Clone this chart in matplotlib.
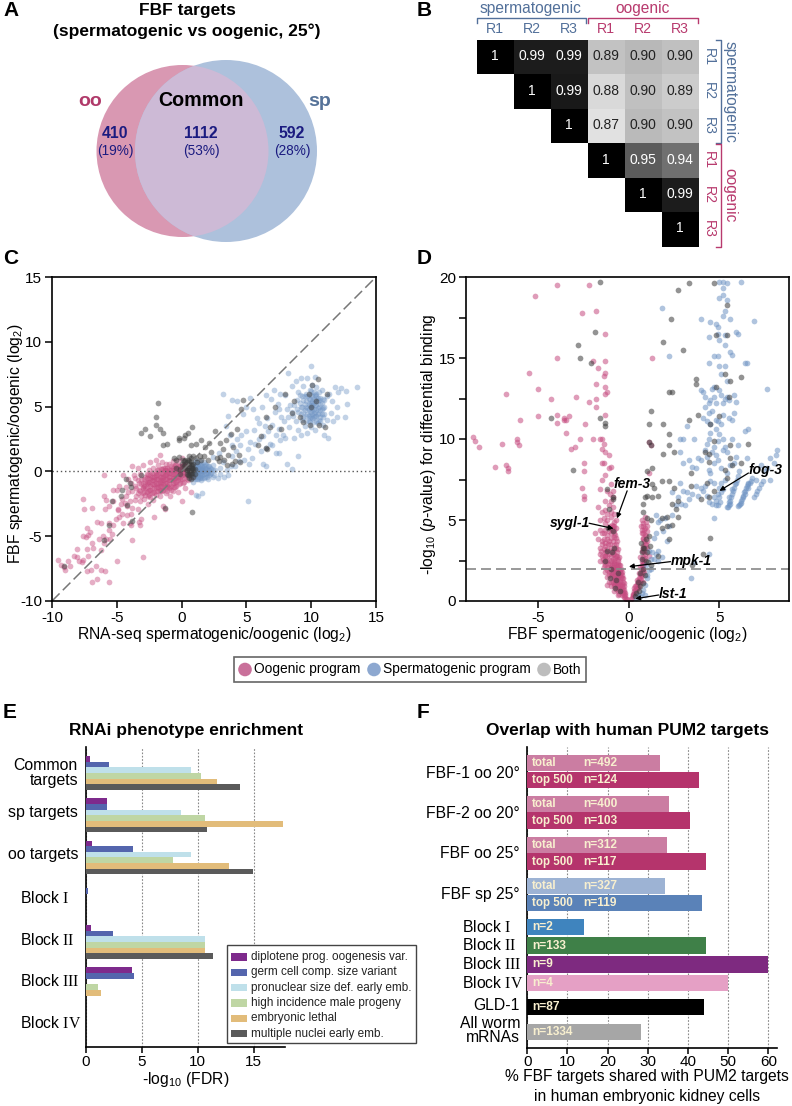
import matplotlib
matplotlib.use('Agg')
import matplotlib.pyplot as plt
from matplotlib.patches import Circle, Rectangle
import numpy as np

plt.rcParams['font.family'] = ['Liberation Sans', 'DejaVu Sans']
plt.rcParams['mathtext.fontset'] = 'custom'
plt.rcParams['mathtext.rm'] = 'Liberation Serif'
plt.rcParams['mathtext.it'] = 'Liberation Sans:italic'
plt.rcParams['mathtext.default'] = 'regular'
plt.rcParams['axes.unicode_minus'] = False

W, H = 792, 1106

# panel B
corr_labels = [['1', '0.99', '0.99', '0.89', '0.90', '0.90'],
               ['', '1', '0.99', '0.88', '0.90', '0.89'],
               ['', '', '1', '0.87', '0.90', '0.90'],
               ['', '', '', '1', '0.95', '0.94'],
               ['', '', '', '', '1', '0.99'],
               ['', '', '', '', '', '1']]
corr_shade = [[0.0, 0.11, 0.11, 0.76, 0.72, 0.75],
              [1.0, 0.0, 0.10, 0.85, 0.75, 0.80],
              [1.0, 1.0, 0.0, 0.88, 0.73, 0.76],
              [1.0, 1.0, 1.0, 0.0, 0.36, 0.44],
              [1.0, 1.0, 1.0, 1.0, 0.0, 0.11],
              [1.0, 1.0, 1.0, 1.0, 1.0, 0.0]]
reps = ['R1', 'R2', 'R3']

c_oo = [(-9.5,-6.8),(-9.3,-7.2),(-9.1,-7.4),(-9,-7.6),(-8.8,-6.9),(-8.6,-7.3),(-8.3,-6.5),(-8.1,-6.6),(-8.1,-6),
 (-7.9,-6.9),(-7.7,-7),(-7.6,-6.8),(-7.3,-6),(-7.2,-6.5),(-7.3,-7.7),(-7,-7.6),(-6.9,-8.5),(-6.5,-8.3),(-6.6,-7.3),
 (-6.2,-7.6),(-5.9,-7.7),(-5.6,-8.5),(-5,-6.9),(-3,-6.6),(-6.8,-5.9),(-6.2,-6.1),(-6,-5.5),(-5.8,-5.2),(-7.6,-5),
 (-7.4,-5.1),(-7.2,-4.9),(-7.3,-4.4),(-7.1,-4.7),(-6.9,-5.5),(-6.4,-5.2),(-6.1,-5),(-5.5,-5.2),(-5.4,-4.8),(-5.6,-4.5),
 (-5.6,-4),(-5.3,-4.1),(-6.5,-3.9),(-6.2,-4),(-5.1,-3.7),(-4.8,-3.5),(-4.9,-3),(-4.6,-3.3),(-4.5,-4),(-4.2,-3.4),
 (-4,-4),(-3.9,-4.1),(-3.9,-3.3),(-3.8,-5.3),(-3.3,-3.9),(-3.2,-4.1),(-3.1,-3.7),(-2.1,-3.5),(-1.3,-2.9),(-7.6,-2.1),
 (-7.5,-2.9),(-6.9,-2.8),(-6,-1.9),(-5.9,-2.9),(-5.8,-2.2),(-5.6,-2.7),(-5.3,-2.3),(-6,-.3),(-5.3,-1.4),(-5,-1.4),
 (-4.9,-2.9),(-4.7,-2.5),(-4.6,-2.1),(-4.4,-2.4),(-4.3,-1.9),(-4.2,-2.7),(-4,-2.3),(-3.8,-2.8),(-3.6,-2.2),(-3.4,-2.9),
 (-4.5,-.3),(-4.3,-1.2),(-4.1,-1.6),(-3.9,-.9),(-3.8,-1.5),(-3.7,-.3),(-3.6,-1.1),(-3.5,-1.9),(-3.4,-.7),(-3.3,-1.4),
 (-3.2,-2.3),(-3.2,-.2),(-3.1,-1),(-3,-1.7),(-3,.5),(-2.9,-.6),(-2.9,-2.1),(-2.8,-1.3),(-2.7,-.2),(-2.7,-.9),(-2.6,-1.9),
 (-2.6,-2.5),(-2.5,.1),(-2.5,-1.4),(-2.5,-.5),(-2.4,.7),(-2.4,-1.1),(-2.3,-1.7),(-2.3,-.1),(-2.3,-.7),(-2.2,.3),(-2.2,-2.2),
 (-2.1,-1.3),(-2.1,-.4),(-2,-.9),(-2,.9),(-2,-1.8),(-1.9,.1),(-1.9,-.6),(-1.9,-1.2),(-1.8,.5),(-1.8,-1.5),(-1.8,-.2),
 (-1.7,1.3),(-1.7,-.8),(-1.7,-1.9),(-1.6,.2),(-1.6,-.4),(-1.6,-1.1),(-1.5,.7),(-1.5,-.1),(-1.5,-1.5),(-1.4,-.7),(-1.4,.3),
 (-1.4,-2.7),(-1.3,-.3),(-1.3,-1.2),(-1.3,.1),(-1.2,.6),(-1.2,-.6),(-1.2,-1.7),(-1.1,-.1),(-1.1,-.9),(-1.1,.3),(-1,-.4),
 (-1,-1.3),(-1,.6),(-.9,.1),(-.9,-.7),(-.9,-1.9),(-.8,-.2),(-.8,.4),(-.8,-1.1),(-.7,.8),(-.7,-.5),(-.7,-1.5),(-.6,.1),
 (-.6,-.2),(-.6,-.9),(-.5,.5),(-.5,-.5),(-.5,-1.2),(-.4,-.1),(-.4,.2),(-.4,-.8),(-.3,.8),(-.3,-.4),(-.3,-1.6),(-.2,.1),
 (-.2,-.2),(-.2,-1),(-.1,.4),(-.1,-.6),(0,.1),(0,-.3),(0,1),(0,-2.3),(.1,.5),(.1,-.9),(.2,-.1),(.2,-.5),(.2,.2),(.3,.6),
 (.3,-1.3),(.4,-.3),(.4,.1),(.5,-.7),(.5,.4),(.6,-.1),(.7,-1.6),(.8,-.4),(-3.6,-.5),(-3.4,.3),(-3.8,.4),(-4.1,-.6),(-4.8,-1.1),
 (-2.8,-.4),(-2.6,-.8),(-2.4,-.3),(-2.2,-1),(-2,-.3),(-1.8,-.9),(-1.6,-.7),(-1.4,-.2),(-1.2,-.2),(-1,-.1),(-2.7,-1.6),(-3,-1.2)]
c_oo_core = [(-3.5,-1.3),(-3.4,-1.7),(-3.3,-.9),(-3.2,-1.5),(-3.1,-1.9),(-3.1,-.6),(-3,-1.3),(-3,-.9),(-2.9,-1.6),(-2.9,-1.1),(-2.8,-.8),
 (-2.8,-1.8),(-2.7,-1.2),(-2.7,-.5),(-2.6,-1.5),(-2.6,-1),(-2.6,-.3),(-2.5,-1.8),(-2.5,-.8),(-2.4,-1.4),(-2.4,-.6),(-2.4,-2),(-2.3,-1),(-2.3,-.4),
 (-2.3,-1.3),(-2.2,-.7),(-2.2,-1.6),(-2.2,-.2),(-2.1,-1),(-2.1,-.6),(-2.1,-1.7),(-2,-1.3),(-2,-.6),(-2,-.1),(-1.9,-1),(-1.9,-.3),(-1.9,-1.5),(-1.8,-.6),
 (-1.8,-1.2),(-1.8,.1),(-1.7,-.4),(-1.7,-1.1),(-1.7,-1.5),(-1.6,-.9),(-1.6,-.1),(-1.6,-1.4),(-1.5,-.5),(-1.5,-.8),(-1.5,-1.2),(-1.5,.2),(-1.4,-.4),(-1.4,-1),
 (-1.4,-1.4),(-1.3,-.6),(-1.3,-.9),(-1.3,.3),(-1.2,-.9),(-1.2,-.3),(-1.2,-1.3),(-1.2,.1),(-1.1,-.5),(-1.1,-1.1),(-1.1,-1.5),(-1,-.7),(-1,.2),(-1,-1),(-.9,-.4),
 (-.9,-.1),(-.9,-1.2),(-.8,-.7),(-.8,.1),(-.8,-1.4),(-.7,-.2),(-.7,-.9),(-.7,.3),(-.6,-.5),(-.6,-1.2),(-.6,.4),(-.5,-.2),(-.5,-.8),(-.5,.1),(-.4,-.4),(-.4,-1.1),
 (-.4,.5),(-.3,-.1),(-.3,-.7),(-.3,.3),(-.2,-.5),(-.2,.4),(-.1,-.1),(-.1,-.9),(-.1,.1),(0,-.6),(0,.4),(.1,-.2),(.1,.2),(.2,-.8),(.2,.5),(.3,-.3),(.3,.1),(.4,-.6)]
c_sp = [(.6,-.1),(.7,.3),(.7,-.5),(.8,.6),(.8,-.2),(.9,.1),(.9,-.8),(1,.4),(1,-.4),(1,.9),(1.1,-.1),(1.1,.2),(1.1,-1.8),
 (1.2,.6),(1.2,-.6),(1.2,-.2),(1.3,.3),(1.3,0),(1.3,-1.9),(1.4,.8),(1.4,-.4),(1.4,.5),(1.5,.1),(1.5,-.1),(1.5,-.7),(1.6,.4),
 (1.6,-.3),(1.6,-1.7),(1.7,.7),(1.7,0),(1.8,.3),(1.8,-.4),(1.9,-.1),(1.9,.5),(2,.1),(2,-.6),(2.1,.4),(2.2,-.2),(2.3,.2),
 (2.4,.5),(2.5,-.3),(2.6,.1),(2.8,-.5),(3,.3),(3,-.2),(3.2,.7),(3.3,-.4),(3.5,.1),(3.6,-.3),(3.8,.4),(3.9,1.2),(4.1,.4),
 (4.2,1.6),(4.4,.8),(4.5,2),(4.8,.9),(5.1,-2.3),(5.2,.6),(5.4,1),(6.3,.6),(6.5,.4),(8.5,.2),(8.1,.6),(7.3,1.4),(7.5,1.4),
 (9,1.2),(3.2,6),(3.4,3.5),(3.6,4.3),(3.9,5.5),(4.3,5.4),(4.7,4.4),(5,5),(5.3,5.7),(5.5,4.8),(5.6,3.2),(5.8,4.1),(6,2.5),
 (6,3.7),(6.2,5),(6.3,2.7),(6.5,5.9),(6.6,4.1),(6.7,3.1),(6.8,2.1),(6.9,5.6),(7,3.6),(7.1,6.3),(7.2,4.6),(7.3,2.8),(7.4,5.2),
 (7.5,3.3),(7.6,6),(7.7,4.2),(7.8,2.8),(7.9,3.9),(8,5.9),(8.1,4.8),(8.2,7.6),(8.3,3.4),(8.4,5.1),(8.5,6.6),(8.6,4.3),(8.7,2.6),
 (8.8,7),(8.8,3.9),(8.9,5.5),(9,6.1),(9,4.6),(9,3.2),(9.2,7.2),(9.2,5),(9.2,2.8),(9.3,4),(9.3,5.8),(9.4,4.6),(9.4,6.6),
 (9.5,3.5),(9.5,5.2),(9.6,6),(9.6,4.3),(9.7,4.9),(9.7,3),(9.7,7.2),(9.8,5.6),(9.8,3.9),(9.9,6.3),(9.9,4.6),(9.9,5.1),(10,8.1),
 (10,3.4),(10,5.9),(10,4.2),(10.1,4.9),(10.1,6.7),(10.1,5.4),(10.2,3.8),(10.2,6.1),(10.2,4.5),(10.3,5.1),(10.3,7.3),(10.3,3.2),
 (10.4,5.8),(10.4,4.3),(10.4,6.5),(10.5,4.9),(10.5,3.7),(10.5,5.4),(10.6,6.1),(10.6,4.5),(10.7,5.2),(10.7,3.9),(10.8,4.8),
 (10.8,6.3),(10.9,5.6),(10.9,3.6),(11,4.4),(11,5),(11,2.8),(11.2,5.8),(11.2,4),(11.3,2.6),(11.4,6),(11.5,4.5),(11.6,5.4),(11.7,3.9),
 (11.8,6.5),(12,5),(12,4.2),(12.1,6.1),(12.3,6.4),(12.6,4.2),(12.7,6.2),(12.8,5.2),(13.5,6.5),(9.9,4.1),(10.1,4.4),(10.3,4.6),
 (10.4,5.1),(9.8,4.8),(10,5.3),(10.6,5),(9.6,5),(10.2,5.6),(9.4,5.5),(10.7,4.2),(9.1,5.9),(8.2,4.2),(7.5,4.8),(6.4,3.5),(5.1,1.7),
 (5.3,2.3),(5,3.1),(4.6,2.8),(4.3,2.5),(3.9,2),(3.7,2.8),(5.7,2.1),(6.1,1.6),(6.5,1.8),(7,2),(7.6,2.4),(8,2.6),(2.4,1.1),(2.9,1.4)]
c_sp_core = [(.9,.3),(.9,-.3),(1,.1),(1,-.1),(1.05,-.6),(1.1,.4),(1.1,.7),(1.15,-.3),(1.2,.1),(1.2,.3),(1.25,-.1),(1.25,-.4),(1.3,.6),(1.3,-.6),(1.35,.2),
 (1.4,0),(1.4,.3),(1.4,-.2),(1.45,-.5),(1.5,.4),(1.5,.6),(1.5,-.3),(1.55,.2),(1.6,0),(1.6,-.5),(1.65,.2),(1.7,-.2),(1.7,.4),(1.75,-.5),(1.8,.1),(1.8,.6),(1.85,-.2),
 (1.9,.2),(1.95,-.4),(2,.4),(2,-.1),(2.1,.1),(2.1,-.3),(2.2,.3),(2.3,-.1),(2.4,.1),(2.4,-.4),(9.4,4.2),(9.5,4.7),(9.5,5.8),(9.6,3.9),(9.6,5.4),(9.7,4.4),(9.7,5.8),(9.8,4.3),
 (9.8,5.2),(9.9,3.8),(9.9,5.6),(10,4.6),(10,4.9),(10,6.2),(10.1,4.1),(10.1,5.1),(10.1,5.8),(10.2,4.8),(10.2,5.3),(10.2,4.2),(10.3,4.3),(10.3,5.5),(10.3,5.9),(10.4,4.7),(10.4,3.9),
 (10.4,6),(10.5,4.4),(10.5,5.7),(10.6,5.5),(10.6,4),(10.7,4.7),(10.7,5.7),(10.8,5.3),(10.8,4.4),(10.9,4.9),(10.9,4.2),(11,5.5),(9.3,5),(9.2,4.4),(9.1,5.3),(8.9,4.8),(8.7,5.1),(8.5,4.6)]
c_both = [(-1.8,5.3),(-2,4.2),(-2,3.6),(-1.7,3.3),(-2.8,3.3),(-3.1,3),(-2.4,2.7),(-1.4,3),(-1.4,2),(-1.1,2.1),(-.2,2.4),(-.2,2.6),
 (.2,2.6),(.5,3),(.8,3.4),(.3,2.8),(.7,2),(1.1,2.1),(1.5,2.4),(1.8,1.9),(2.1,2.2),(2.6,3.1),(3,2.2),(3.2,1.7),(3.4,2.4),(3.6,1.3),
 (3.8,2.9),(4,1.9),(4.1,.8),(4.3,3.3),(4.4,1.3),(4.6,4.8),(4.7,5.5),(4.5,.7),(2.7,1),(2.9,.8),(3,1.1),(3.3,.9),(3.5,.5),(3.9,.6),
 (5.9,2),(6.1,2.7),(6.5,1.8),(6.6,1.7),(6.5,4.2),(6.8,3.4),(7.2,5),(7.7,3.3),(8,6),(8.5,4.5),(8.7,5.4),(9.1,4.2),(9.4,3.8),(9.8,6),
 (9.9,3.6),(10.1,6.7),(10.4,5.4),(10.5,7.1),(10.6,3.6),(11.1,3.4),(11.2,6),(10,5),(.8,-3.1),(-5.6,-4.1),(-6,-5.3),(-9.1,-7.3),(-1.3,-2.8),
 (-.6,1),(-.4,.9),(-.2,1.1),(0,.6),(.1,.9),(.2,.4),(.3,.2),(.3,.9),(.4,.7),(.4,-.2),(.5,.1),(.5,.9),(.6,.4),(.6,-.3),(.6,1.2),(.7,.8),(.7,.1),
 (.7,-.6),(.8,.3),(.8,-.1),(.9,.6),(.9,1.2),(1,-.2),(1,.2),(1.1,1),(1.2,.7),(1.4,1.2),(1.5,.9),(1.7,1.2),(2,.9),(2.3,1.5),(-.4,.3),(-.1,.2),
 (-.1,-.2),(-3.1,-.3),(-4.6,-1.4),(-4.7,-1.9),(-5.4,-2.3),(-4.2,-2.6),(-3.8,-3.8),(-4,-.9),(-3.9,-1.2),(-4.3,-.6),
 (.45,.3),(.5,-.3),(.55,.6),(.6,.1),(.65,-.1),(.7,.5),(.75,-.2),(.8,.1),(.8,.5),(.85,-.4),(.9,.2),(.4,.1),(.3,.5),(.6,.8),(.2,.8),(.55,-.5),(.7,1)]

# panel D
d_oo = [(-8.6,10.1),(-8.5,9.9),(-8.3,9.5),(-7.4,8.3),(-7,9.7),(-6.8,12.8),(-6.8,8.4),(-6.7,8.2),(-6.7,8),(-6.2,10),(-6.2,9.8),(-6.1,9.6),
 (-6,11.2),(-5.5,14.1),(-5.2,18.8),(-5,13.1),(-5,11.4),(-4.3,12.5),(-4,19.5),(-4,15),(-4,11),(-4,11.5),(-3.6,11.3),(-3.6,11.2),(-3.5,11.2),
 (-3.5,10.4),(-3.3,11.4),(-3.2,9.4),(-3,9.5),(-2.9,12.6),(-2.7,10),(-2.6,17.8),(-2.6,7),(-2.5,8.5),(-2.5,8),(-2.5,6.5),(-2.5,6.3),(-2.4,10.9),
 (-2.2,12.3),(-2.2,19.5),(-2,10),(-2,14.8),(-1.8,17.9),(-1.8,13.4),(-1.8,12),(-1.8,12.5),(-1.7,14.4),(-1.6,10),(-1.5,10),(-1.5,8.5),(-1.5,9.4),(-1.4,13.9),
 (-1.4,9.7),(-1.4,8.5),(-1.3,11.5),(-1.3,13.2),(-1.3,12.8),(-1.3,7.8),(-1.3,9.2),(-1.3,14.1),(-1.3,14.8),(-1.3,16.5),(-1.2,12.9),(-1.1,9),(-1.1,8.2),(-1,8.3),
 (-1,7.2),(-.9,6.8),(-1.5,7.5),(-1.6,6.9),(-1.2,6.8),(-1.3,6.2),(-1.1,5.9),(-.9,6.4),(-.9,5.8),(-1.7,5.8),(-1.5,5.5),(-1.4,5.1),(-1.2,5.4),(-1,5.2),(-.8,5.4),(-.7,5),
 (-1.6,5),(-1.3,4.8),(-1.1,4.6),(-.9,4.6),(-.7,4.5),(-1.9,4.2),(-1.6,4.4),(-1.4,4.2),(-1.2,4.1),(-1,4.2),(-.8,4.2),(-.7,3.9),(-1.7,3.8),(-1.5,3.7),(-1.3,3.6),(-1.1,3.7),
 (-.9,3.7),(-.7,3.5),(-1.6,3.3),(-1.4,3.2),(-1.2,3.2),(-1,3.3),(-.8,3.2),(-.6,3.2),(-1.6,2.9),(-1.3,2.8),(-1.1,2.9),(-.9,2.9),(-.7,2.8),(-.6,2.6),(-1.6,2.5),(-1.4,2.4),
 (-1.2,2.5),(-1,2.5),(-.8,2.5),(-.6,2.3),(-.5,2.2),(-1.4,2.1),(-1.2,2.1),(-1,2.1),(-.8,2.1),(-.6,2),(-.5,1.9),(-1.3,1.8),(-1.1,1.8),(-.9,1.8),(-.7,1.8),(-.5,1.7),(-.4,1.6),
 (-1.2,1.5),(-1,1.5),(-.8,1.5),(-.6,1.5),(-.4,1.4),(-1.1,1.2),(-.9,1.2),(-.7,1.2),(-.5,1.2),(-.3,1.1),(-1,.9),(-.8,.9),(-.6,.9),(-.4,.9),(-.3,.7),(-.8,.6),(-.6,.6),(-.4,.6),
 (-.2,.5),(-.6,.4),(-.4,.35),(-.3,.25),(-.2,.2),(-.1,.1),(-1.2,1),(-.95,1.65),(-.75,1.35),(-.55,1.05),(-.35,.5),(-.85,2.3),(-1.05,2.3),(-.7,2),(-1.35,3),(-1.15,3.5),(-.95,4.4),
 (.1,.15),(.2,.3),(.3,.6),(.25,.45),(.4,.9),(.35,.7),(.5,1.1),(.45,1.3),(.6,1.4),(.55,1.7),(.7,1.9),(.6,2.1),(.8,2.2),(.7,2.5),(.85,2.6),(.9,2.9),(.8,3.1),(1,3.3),(.9,3.5),
 (1,3.7),(.8,3.8),(.95,4),(.8,4.2),(1,4.3),(.7,4.4),(.9,4.5),(.65,4.6),(.8,4.8),(1,4.6),(.9,5.2),(.7,5),(1.1,7.9),(1.3,15),(1.2,9.6),(1.1,9.8),(.8,3.4),(.6,2.7),(1.1,2.8),
 (.5,.8),(.65,1.6),(.75,1.2),(.85,1.8)]
d_oo_arm = [(-.55,.45),(-.5,.6),(-.45,.75),(-.35,.8),(-.3,.55),(-.25,.4),(-.2,.35),(-.15,.15),(-.7,.75),(-.65,.85),(-.55,.8),(-.5,1),(-.4,1.05),(-.35,1.2),(-.3,.95),(-.85,1.05),(-.75,1.05),
 (-.65,1.1),(-.6,1.3),(-.5,1.35),(-.45,1.5),(-.35,1.4),(-1,1.2),(-.85,1.35),(-.7,1.4),(-.65,1.6),(-.55,1.6),(-.45,1.75),(-.4,1.8),(-1.1,1.6),(-1,1.75),(-.85,1.65),(-.75,1.6),(-.6,1.75),(-.55,1.9),
 (-.45,2),(-1.2,1.9),(-1.05,1.95),(-.95,2),(-.85,1.95),(-.75,2),(-.65,2.15),(-.55,2.2),(-1.3,2.2),(-1.15,2.3),(-.95,2.25),(-.8,2.35),(-.7,2.3),(-.6,2.5),(-.55,2.7),(-1.45,2.6),(-1.3,2.5),(-1.1,2.55),
 (-.9,2.6),(-.75,2.65),(-.65,2.75),(-1.5,2.8),(-1.35,2.75),(-1.2,2.8),(-1,2.8),(-.8,2.9),(-.65,3),(-1.55,3.1),(-1.25,3.05),(-1.05,3.1),(-.9,3.1),(-.7,3.3),(-1.5,3.5),(-1.3,3.4),(-1.05,3.5),(-.85,3.45),
 (-.65,3.7),(-1.4,3.8),(-1.2,3.85),(-1,3.9),(-.85,3.95),(-.75,4.1),(-1.1,4.3),(-1,4.5),(-.85,4.4),(-.8,4.6),(-.95,4.7),(-.85,4.9),(-1.3,4.4),(-1.5,4.2),(-1.2,5),(-1,5.5),(-1.3,5.6),(-1,6.2),(-1.05,6.6),
 (.15,.2),(.2,.4),(.3,.45),(.3,.8),(.35,.95),(.4,.6),(.45,.8),(.45,1.05),(.5,1.25),(.55,.95),(.55,1.4),(.6,1.15),(.6,1.65),(.65,1.3),(.65,1.95),(.7,1.55),(.7,2.2),(.75,1.75),(.75,2.4),(.8,2),(.8,2.7),(.85,2.35),
 (.85,3),(.9,2.65),(.9,3.25),(.95,3.5),(.75,3.3),(.7,3.1),(.85,3.7),(.75,3.9),(.9,4.1),(.7,4.2),(.75,4.6),(.85,4.4),(.95,4.9)]
d_sp = [(.8,.7),(.7,.5),(.9,1),(1,1.4),(1.1,1.9),(.95,2.2),(1.2,2.6),(1.1,3.1),(1.3,3),(1.4,2.6),(1.5,2.9),(1.6,2.5),(1.6,3.1),(1.8,2.7),(1.2,2),(1,1.6),(.9,.4),
 (.6,.3),(.5,.4),(.4,.2),(3.4,1.4),(3.6,2.4),(4.4,2.9),(1.4,3.9),(1.5,4.2),(1.6,4.9),(1.5,5.3),(1.7,5),(1.9,4.3),(2,5.1),(2.1,3.7),(2.2,4.6),(2.4,5.3),(2.4,6.7),(2.6,5.9),
 (2.7,6.4),(2.8,7.3),(3,6.8),(3.2,6.7),(3.3,6.3),(3,8.5),(3.3,8.7),(3.5,8.3),(3.8,8.8),(4,8.7),(4.4,8.1),(4.5,7.9),(4.7,8.5),(4.9,8.7),(5.1,8.2),(5.2,9.3),(2.2,15.1),
 (1.8,18.1),(2.8,10),(2.8,9.2),(3,10),(3.2,10.8),(3.6,10),(3.7,8.2),(3.7,7.1),(3.8,6.5),(4,7),(4.1,6.8),(4.3,6.5),(4.4,6.1),(4.6,6),(4.8,6.2),(4.9,6.6),(5,7),(5.1,7.3),
 (5.3,7.5),(5.4,7.9),(5.5,5.9),(5.6,6.2),(5.7,6.6),(5.8,7),(5.9,7.3),(6,7.7),(6.1,5.9),(6.2,6.2),(6.3,6.5),(6.4,6.8),(6.5,7.1),(6.6,7.3),(6.8,7.6),(7,7.5),(7,6.6),(7.2,7),
 (7.4,7.4),(7.5,8),(7.6,8.2),(7.3,8.4),(7.8,8.8),(8.1,9),(8.2,9.3),(8,8.5),(7.8,7.5),(4.7,5.1),(5.45,5.8),(5.6,6),(5.55,6.4),(5.75,6.8),(5.85,7.2),(6.15,6),(6.25,6.3),(6.35,6.7),
 (6.45,7),(6.55,7.2),(6.75,7.4),(5,6.4),(5.2,6.9),(4.7,6.4),(4.9,5.9),(4.2,7.1),(4.5,7.4),(4.7,7.3),(4.2,9.3),(4.3,9.7),(4.4,10),(4.5,10.4),(4.3,8.9),(4.6,9.2),(4.7,9.5),(4.8,9),
 (4.9,9.9),(5,10.3),(5.2,10),(5.3,9.5),(5.4,9.2),(5.7,10),(5.9,8.9),(6,9.6),(6.4,10.5),(6.6,10.6),(5.8,8.5),(6.5,8.8),(4.5,10.9),(4.8,10.6),(4.9,11.1),(5.1,10.9),(5.2,11.5),(5.5,11.3),
 (5.7,11.2),(5.8,11.6),(4.1,11.3),(4.3,11.1),(4.4,11.6),(4.6,11.7),(4.8,11.2),(4.1,12.9),(4,13),(4.2,12.6),(4.5,12.4),(4.6,13.1),(4.7,12.6),(5,13),(5.1,12.7),(5.3,12.5),(5.4,12.6),(5.5,12.4),
 (5.8,12.7),(5.9,12.3),(4.7,13.2),(4.4,12.2),(4.2,12),(4.8,12.2),(5.2,12.2),(4.4,14.7),(4.7,15.1),(4.9,15.1),(5,14.5),(5.1,14),(5.3,14.5),(5.4,13.6),(6.5,14.7),(6.4,14.7),(7.6,13.1),
 (4.4,16.3),(4.9,16.5),(5,16.1),(5.3,15.8),(5.6,15.4),(5.7,15.2),(5.3,16.4),(5.9,16.6),(6,16.5),(4,17.4),(4.5,17.2),(4.8,17.1),(4.9,16.9),(5.2,17.6),(5.3,17.9),(5.6,17.4),(6.9,17.3),
 (5,18.7),(5.2,18.9),(5.2,19.3),(5.2,19.7),(5.4,19.6),(5,19.7),(6.2,19.7),(5.4,18.6),(6.1,8),(5.6,8.4),(3.5,6.6),(3.1,5.9),(2.9,6),
 (5.4,5.8),(5.5,6.1),(5.65,6.4),(5.7,6.9),(5.95,7.5),(6.05,5.85),(6.2,6.05),(6.3,6.4),(6.4,6.6),(6.6,7),(6.7,7.3),(5.05,6.1),(5.1,6.7),(4.8,5.9),(6.9,6.4),(7.1,6.8),(7.3,7.2)]
d_both = [(-1.6,19.7),(-1.9,16.6),(-2.8,15.8),(-2.7,15),(-2.1,14.7),(-4.3,11.3),(-1.6,11.3),(-1.3,11),(-1.3,10.8),(-3.1,8.1),(-.9,6.3),(-1.2,6.9),(-.9,6.4),(-1.1,5.7),(-1.2,3.1),(-.9,4.3),
 (-.8,3.3),(-1.3,2.5),(-1,2),(-.7,1.3),(-.5,.6),(-.6,1.7),(1,8),(1.2,11.7),(1.1,10.9),(1.1,9.8),(1.2,9.6),(1.3,8.2),(1.3,7.2),(1.4,7),(1.3,6.4),(.9,6.4),(1,6.5),(.8,6),(.8,5.5),(1,5.1),(1.2,5),
 (1.6,6.5),(1.8,7.4),(2.2,7.4),(2.5,7),(1.8,5.1),(2.1,5.2),(1.8,4.5),(2.1,4.6),(2.4,4.7),(2.2,3.8),(1.6,2.8),(.8,3.3),(.7,3),(1,3),(.95,2.5),(1.2,2.2),(.8,2),(.5,1.2),(.6,.9),(.4,.5),(2.7,6.2),(2.4,6),(2.6,5.7),
 (2.7,5.2),(1.9,9.1),(1.9,10.9),(2.2,10.3),(2.2,9.6),(2.5,9.2),(2.2,12.9),(2.4,12.9),(1.9,16),(2.3,17.4),(2.7,19.2),(3.3,19.6),(4.7,19.6),(3,15.5),(3.7,13.7),(3.7,13.4),(3.3,11.2),(3.8,11.5),(3.4,7.9),(3.4,7.1),
 (4.4,8.6),(4.3,7.3),(4,6.3),(4.4,6.4),(4.7,6.8),(4.4,9.1),(4.2,9.2),(4.7,9.9),(5.3,8.1),(5.6,8.8),(5.6,9.6),(6.2,13.8),(5.3,14),(5.6,13.6),(4.8,13.2),(5.5,12.6),(5,11.4),(4.5,10.9),(6.6,9.7),(6.2,8.5),
 (5.4,16.4),(4.8,16.4),(5.4,18.3),(4.5,3.9),(5.4,7.6),(5.7,8.4),(3.5,2.2),(4.1,2.9),
 (.6,1.7),(.7,2.6),(.85,3.3),(.95,3.8),(1.05,2.4),(.9,1.6),(.75,1.1),(.55,.6),(.35,.3),(1.15,3.4),(-1.05,1.4),(-.75,.8),(-.95,3),(-1.15,4.5),(.65,3.6),(1.1,4)]

# panel E
e_groups = ['Common\ntargets', 'sp targets', 'oo targets']
phenotypes = ['diplotene prog. oogenesis var.', 'germ cell comp. size variant', 'pronuclear size def. early emb.',
              'high incidence male progeny', 'embryonic lethal', 'multiple nuclei early emb.']
pheno_colors = ['#7E2A8C', '#5465AD', '#BFE0EA', '#BFD6A4', '#E2BC7A', '#5A5A5A']
diplotene = [0.4, 1.85, 0.5, 0, 0.45, 4.1, 0]
germ_cell = [2.1, 1.85, 4.2, 0.2, 2.4, 4.25, 0]
pronuclear = [9.4, 8.5, 9.4, 0, 10.65, 0, 0]
male_prog = [10.25, 10.65, 7.75, 0, 10.65, 1.1, 0]
emb_lethal = [11.7, 17.6, 12.75, 0, 10.65, 1.3, 0]
multi_nuc = [13.8, 10.8, 14.9, 0, 11.4, 0, 0]

# panel F
f_vals = [33, 42.7, 35.2, 40.5, 34.8, 44.4, 34.2, 43.5, 14.2, 44.4, 60, 50, 44, 28.4]
f_notes = ['n=492', 'n=124', 'n=400', 'n=103', 'n=312', 'n=117', 'n=327', 'n=119',
           'n=2', 'n=133', 'n=9', 'n=4', 'n=87', 'n=1334']
f_tags = ['total', 'top 500', 'total', 'top 500', 'total', 'top 500', 'total', 'top 500']
f_colors = ['#CB7DA2', '#B5346C', '#CB7DA2', '#B5346C', '#CB7DA2', '#B5346C', '#9DB3D4', '#5A82B8',
            '#3F84BE', '#3F8048', '#7E2A80', '#E5A0C5', '#000000', '#A6A6A6']
f_top = [755, 771.7, 796, 812.4, 837, 853.4, 878, 894.7, 919, 937.3, 956, 974.7, 999, 1023.7]
f_bot = [771, 787.7, 812, 828.7, 853.4, 869.7, 894, 910.7, 935.3, 954, 972.7, 991, 1015.3, 1040]

pink = '#C64C80'
blue = '#6F94C4'
dark = '#3A3A3A'
sp_col = '#52709A'
oo_col = '#B83A6E'
navy = '#1B1B80'


def px_axes(left, top, right, bottom):
    return fig.add_axes([left / W, 1 - bottom / H, (right - left) / W, (bottom - top) / H])


fig = plt.figure(figsize=(W / 100, H / 100), dpi=100)

ov = fig.add_axes([0, 0, 1, 1], zorder=5)
ov.set_xlim(0, W)
ov.set_ylim(H, 0)
ov.axis('off')

for s, x, y in [('A', 3, 11), ('B', 417, 11), ('C', 3, 258), ('D', 417, 258), ('E', 3, 712), ('F', 417, 712)]:
    ov.text(x, y, s, fontsize=15, fontweight='bold', va='center', ha='left')

# venn
ov.text(187, 10, 'FBF targets', fontsize=12.5, fontweight='bold', ha='center', va='center')
ov.text(187, 31, '(spermatogenic vs oogenic, 25°)', fontsize=12.5, fontweight='bold', ha='center', va='center')
c1 = Circle((182.5, 151), 86, fc='#D998B2', ec='none')
c2 = Circle((226, 151), 91, fc='#ADC1DC', ec='none')
ov.add_patch(c1)
ov.add_patch(c2)
c3 = Circle((226, 151), 91, fc='#CDBAD6', ec='none')
ov.add_patch(c3)
c3.set_clip_path(Circle((182.5, 151), 86, transform=ov.transData))
ov.text(90, 101, 'oo', fontsize=14, fontweight='bold', color='#B03A6A', ha='center', va='center')
ov.text(320, 101, 'sp', fontsize=14, fontweight='bold', color='#567399', ha='center', va='center')
ov.text(201, 100, 'Common', fontsize=14.2, fontweight='bold', ha='center', va='center')
for x, n, p in [(115, '410', '(19%)'), (201, '1112', '(53%)'), (292, '592', '(28%)')]:
    ov.text(x, 133, n, fontsize=11.3, fontweight='bold', color=navy, ha='center', va='center')
    ov.text(x, 151, p, fontsize=9.8, color=navy, ha='center', va='center')

# heatmap
axb = px_axes(476.7, 40, 698.7, 246.7)
axb.imshow(corr_shade, cmap='gray', vmin=0, vmax=1, aspect='auto')
axb.axis('off')
for i in range(6):
    for j in range(6):
        if corr_labels[i][j]:
            tc = 'white' if corr_shade[i][j] < 0.5 else '#222222'
            axb.text(j, i - 0.03, corr_labels[i][j], color=tc, fontsize=10, ha='center', va='center')

ov.text(530.7, 8, 'spermatogenic', color=sp_col, fontsize=11.2, ha='center', va='center')
ov.text(643, 8, 'oogenic', color=oo_col, fontsize=11.2, ha='center', va='center')
ov.plot([477, 477, 586, 586], [23, 18, 18, 23], color=sp_col, lw=1)
ov.plot([588, 588, 698, 698], [23, 18, 18, 23], color=oo_col, lw=1)
ov.plot([716, 721, 721, 716], [40, 40, 143, 143], color=sp_col, lw=1)
ov.plot([716, 721, 721, 716], [144, 144, 247, 247], color=oo_col, lw=1)
ov.text(730, 92, 'spermatogenic', color=sp_col, fontsize=11.2, rotation=-90, ha='center', va='center')
ov.text(730, 195, 'oogenic', color=oo_col, fontsize=11.2, rotation=-90, ha='center', va='center')
for i in range(6):
    col = sp_col if i < 3 else oo_col
    ov.text(495 + 37 * i, 29, reps[i % 3], color=col, fontsize=10.2, ha='center', va='center')
    ov.text(709, 57 + 34.4 * i, reps[i % 3], color=col, fontsize=10.2, rotation=-90, ha='center', va='center')

# scatter C
axc = px_axes(52, 277, 376, 601)
for pts, col, al in [(c_oo + c_oo_core, pink, 0.45), (c_sp + c_sp_core, blue, 0.42), (c_both, dark, 0.5)]:
    arr = np.array(pts)
    axc.scatter(arr[:, 0], arr[:, 1], s=17, c=col, alpha=al, linewidths=0, clip_on=False)
axc.plot([-10, 15], [-10, 15], color='#777777', lw=1.1, dashes=(7, 3))
axc.axhline(0, color='#555555', lw=1, ls=(0, (1, 2)))
axc.set_xlim(-10, 15)
axc.set_ylim(-10, 15)
axc.set_xticks(range(-10, 16, 5))
axc.set_yticks(range(-10, 16, 5))
axc.set_xlabel('RNA-seq spermatogenic/oogenic (log$_{2}$)', fontsize=11.3, labelpad=0)
axc.set_ylabel('FBF spermatogenic/oogenic (log$_{2}$)', fontsize=11.3)
axc.yaxis.set_label_coords(-0.084, 0.485)

# volcano D
axd = px_axes(466, 277, 789, 601)
for pts, col, al in [(d_oo + d_oo_arm, pink, 0.55), (d_sp, blue, 0.55), (d_both, dark, 0.55)]:
    arr = np.array(pts)
    axd.scatter(arr[:, 0], arr[:, 1], s=17, c=col, alpha=al, linewidths=0)
axd.axhline(2, color='#888888', lw=1.2, dashes=(6, 3))
axd.set_xlim(-9, 8.84)
axd.set_ylim(0, 20)
axd.set_xticks([-5, 0, 5])
axd.set_yticks([0, 5, 10, 15, 20])
axd.set_yticks([2.5, 7.5, 12.5, 17.5], minor=True)
axd.set_xlabel('FBF spermatogenic/oogenic (log$_{2}$)', fontsize=11.3, labelpad=0)
axd.set_ylabel('-log$_{10}$ ($\\mathit{p}$-value) for differential binding', fontsize=11.3)
axd.yaxis.set_label_coords(-0.088, 0.485)
for name, tx, ty, x0, y0, x1, y1 in [('fem-3', 0.17, 7.2, -0.1, 6.8, -0.66, 5.1),
                                     ('sygl-1', -3.28, 4.8, -2.2, 4.8, -0.85, 4.47),
                                     ('fog-3', 7.53, 8.1, 6.6, 7.9, 5, 6.8),
                                     ('mpk-1', 3.44, 2.5, 2.3, 2.43, 0, 2.12),
                                     ('lst-1', 2.43, 0.41, 1.64, 0.37, 0.35, 0.14)]:
    axd.text(tx, ty, name, fontsize=10, fontweight='bold', style='italic', ha='center', va='center', zorder=6)
    axd.annotate('', xy=(x1, y1), xytext=(x0, y0), zorder=6,
                 arrowprops=dict(arrowstyle='-|>', color='black', lw=0.9, mutation_scale=7, shrinkA=0, shrinkB=0))

for a in [axc, axd]:
    for sp in a.spines.values():
        sp.set_linewidth(1.2)
    a.tick_params(axis='both', which='both', labelsize=11, width=1.1, length=5, pad=2)

# shared legend
ov.add_patch(Rectangle((234, 657), 352, 25, fc='white', ec='#666666', lw=1.2))
for x, col, lab in [(245, '#C9709A', 'Oogenic program'), (374, '#8DA8D0', 'Spermatogenic program'), (544, '#BDBDBD', 'Both')]:
    ov.add_patch(Circle((x, 669.5), 6.8, fc=col, ec='none'))
    ov.text(x + 9, 669.5, lab, fontsize=9.9, ha='left', va='center')

# bars E
axe = px_axes(86, 747, 285, 1047)
series = [diplotene, germ_cell, pronuclear, male_prog, emb_lethal, multi_nuc]
for k, vals in enumerate(series):
    ypos = np.arange(7) + (k - 2.5) * 0.134
    axe.barh(ypos, vals, height=0.134, color=pheno_colors[k], zorder=3)
axe.set_xlim(0, 17.8)
axe.set_ylim(6.485, -0.615)
axe.set_xticks([0, 5, 10, 15])
axe.set_yticks([])
axe.grid(axis='x', color='#888888', lw=0.8, ls=(0, (1.5, 1.5)), zorder=0)
axe.set_xlabel('-log$_{10}$ (FDR)', fontsize=11.3, labelpad=1)
ov.text(186, 730, 'RNAi phenotype enrichment', fontsize=12.5, fontweight='bold', ha='center', va='center')
ov.text(78, 773, e_groups[0], fontsize=11.4, ha='right', va='center', linespacing=1.05)
ov.text(78, 813, e_groups[1], fontsize=11.4, ha='right', va='center')
ov.text(78, 855, e_groups[2], fontsize=11.4, ha='right', va='center')
for lab, y in [('I', 898), ('II', 940), ('III', 981), ('IV', 1023)]:
    ov.text(20, y, 'Block $\\mathrm{%s}$' % lab, fontsize=11.3, ha='left', va='center')

ov.add_patch(Rectangle((227, 945), 189, 98, fc='white', ec='#444444', lw=1))
for k, lab in enumerate(phenotypes):
    y = 957 + 15.3 * k
    ov.add_patch(Rectangle((230.5, y - 3.7), 16.5, 7.4, fc=pheno_colors[k], ec='none'))
    ov.text(251, y, lab, fontsize=8.5, ha='left', va='center', color='#222222')

# bars F
axf = px_axes(527.3, 747, 776.7, 1047.7)
f_y = [(a + b) / 2 for a, b in zip(f_top, f_bot)]
f_h = [b - a for a, b in zip(f_top, f_bot)]
axf.barh(f_y, f_vals, height=f_h, color=f_colors, zorder=3)
axf.set_xlim(0, 62.1)
axf.set_ylim(1047.7, 747)
axf.set_xticks(range(0, 61, 10))
axf.set_yticks([])
axf.grid(axis='x', color='#888888', lw=0.8, ls=(0, (1.5, 1.5)), zorder=0)
for i, n in enumerate(f_notes):
    if i < 8:
        axf.text(1.1, f_y[i], f_tags[i], color='#F8EFCF', fontsize=8.4, fontweight='bold', va='center', zorder=4)
        axf.text(13.9, f_y[i], n, color='#F8EFCF', fontsize=8.6, fontweight='bold', va='center', zorder=4)
    else:
        axf.text(1.2, f_y[i], n, color='#F8EFCF', fontsize=8.6, fontweight='bold', va='center', zorder=4)
ov.text(627, 730, 'Overlap with human PUM2 targets', fontsize=12.5, fontweight='bold', ha='center', va='center')
for lab, y in [('FBF-1 oo 20°', 773), ('FBF-2 oo 20°', 813), ('FBF oo 25°', 853.5), ('FBF sp 25°', 894.5), ('GLD-1', 1005)]:
    ov.text(520, y, lab, fontsize=11.3, ha='right', va='center')
ov.text(520, 1030.5, 'All worm\nmRNAs', fontsize=11.3, ha='right', va='center', linespacing=0.95)
for lab, y in [('I', 927), ('II', 945.5), ('III', 964), ('IV', 982.5)]:
    ov.text(461.7, y, 'Block $\\mathrm{%s}$' % lab, fontsize=11.3, ha='left', va='center')
ov.text(647, 1077, '% FBF targets shared with PUM2 targets', fontsize=11.25, ha='center', va='center')
ov.text(647, 1096, 'in human embryonic kidney cells', fontsize=11.25, ha='center', va='center')

for a in [axe, axf]:
    a.spines['top'].set_visible(False)
    a.spines['right'].set_visible(False)
    a.spines['left'].set_linewidth(1.2)
    a.spines['bottom'].set_linewidth(1.2)
    a.tick_params(axis='x', labelsize=11, width=1.1, length=4, pad=1.5)

fig.savefig('out.png', dpi=100)
